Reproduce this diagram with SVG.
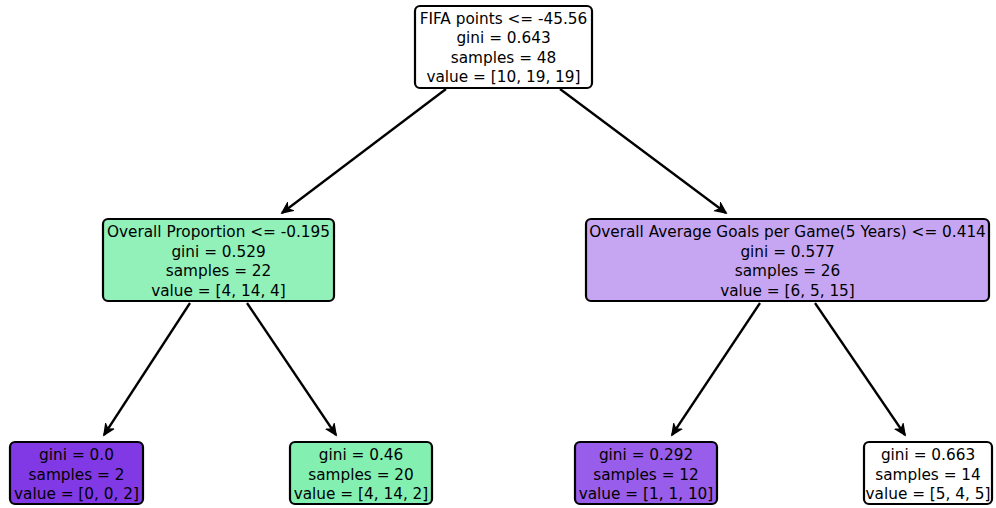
<svg xmlns="http://www.w3.org/2000/svg" width="996" height="508" viewBox="0 0 996 508">
<defs>
<marker id="ah" markerUnits="userSpaceOnUse" markerWidth="14" markerHeight="14" refX="11" refY="6" orient="auto">
<path d="M1,1.5 L11,6 L1,10.5 L4,6 Z" fill="#000" stroke="#000" stroke-width="1.5" stroke-linejoin="miter"/>
</marker>
<style>
.box{stroke:#000;stroke-width:2.2}
.t{font-family:"DejaVu Sans",sans-serif;font-size:15.3px;fill:#000;text-anchor:middle}
.e{stroke:#000;stroke-width:2.3;fill:none;marker-end:url(#ah)}
</style>
</defs>
<rect width="996" height="508" fill="#fff"/>
<g id="edges">
<line class="e" x1="446" y1="89" x2="282" y2="213"/>
<line class="e" x1="560" y1="89" x2="726" y2="213"/>
<line class="e" x1="190" y1="303" x2="104" y2="435"/>
<line class="e" x1="247" y1="303" x2="336" y2="435"/>
<line class="e" x1="760" y1="303" x2="672" y2="435"/>
<line class="e" x1="815" y1="303" x2="905" y2="435"/>
</g>
<g id="root">
<rect class="box" x="415" y="6" width="177" height="82" rx="5" fill="#ffffff"/>
<text class="t" x="503.5" y="23.5">FIFA points &lt;= -45.56</text>
<text class="t" x="503.5" y="43">gini = 0.643</text>
<text class="t" x="503.5" y="62.5">samples = 48</text>
<text class="t" x="503.5" y="82">value = [10, 19, 19]</text>
</g>
<g id="left">
<rect class="box" x="103" y="219" width="231" height="82" rx="5" fill="#91f1b9"/>
<text class="t" x="218.5" y="237">Overall Proportion &lt;= -0.195</text>
<text class="t" x="218.5" y="256.5">gini = 0.529</text>
<text class="t" x="218.5" y="276">samples = 22</text>
<text class="t" x="218.5" y="295.5">value = [4, 14, 4]</text>
</g>
<g id="right">
<rect class="box" x="586" y="219" width="403" height="82" rx="5" fill="#c6a6f3"/>
<text class="t" x="787.5" y="237">Overall Average Goals per Game(5 Years) &lt;= 0.414</text>
<text class="t" x="787.5" y="256.5">gini = 0.577</text>
<text class="t" x="787.5" y="276">samples = 26</text>
<text class="t" x="787.5" y="295.5">value = [6, 5, 15]</text>
</g>
<g id="leafLL">
<rect class="box" x="10" y="442" width="133" height="62" rx="5" fill="#8139e5"/>
<text class="t" x="76.5" y="460">gini = 0.0</text>
<text class="t" x="76.5" y="479.5">samples = 2</text>
<text class="t" x="76.5" y="499">value = [0, 0, 2]</text>
</g>
<g id="leafLR">
<rect class="box" x="290" y="442" width="142" height="62" rx="5" fill="#83efb0"/>
<text class="t" x="361" y="460">gini = 0.46</text>
<text class="t" x="361" y="479.5">samples = 20</text>
<text class="t" x="361" y="499">value = [4, 14, 2]</text>
</g>
<g id="leafRL">
<rect class="box" x="575" y="442" width="142" height="62" rx="5" fill="#985dea"/>
<text class="t" x="646" y="460">gini = 0.292</text>
<text class="t" x="646" y="479.5">samples = 12</text>
<text class="t" x="646" y="499">value = [1, 1, 10]</text>
</g>
<g id="leafRR">
<rect class="box" x="864" y="442" width="128" height="62" rx="5" fill="#ffffff"/>
<text class="t" x="928" y="460">gini = 0.663</text>
<text class="t" x="928" y="479.5">samples = 14</text>
<text class="t" x="928" y="499">value = [5, 4, 5]</text>
</g>
</svg>
